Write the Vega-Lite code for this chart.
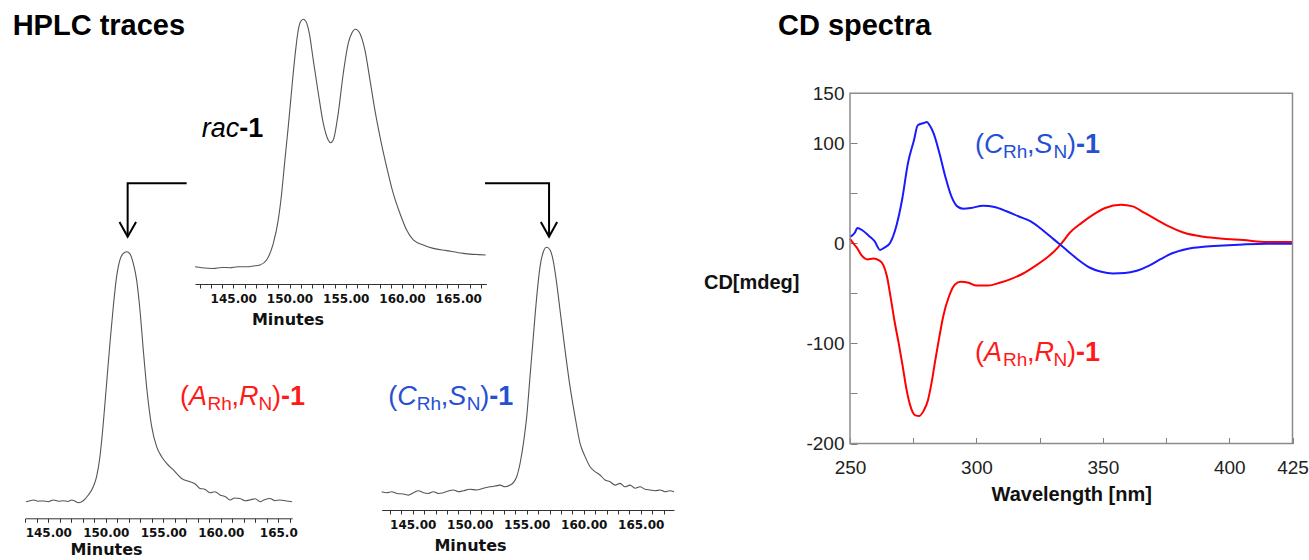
{
"$schema": "https://vega.github.io/schema/vega-lite/v6.json",
"width": 1309, "height": 560,
"autosize": {"type": "none"},
"padding": 0,
"background": "white",
"config": {"view": {"stroke": null}, "font": "Liberation Sans"},
"datasets": {
"top": [{"t":141.6,"v":0},{"t":142.2,"v":-0.004},{"t":143.22,"v":-0.007},{"t":144.0,"v":-0.003},{"t":144.7,"v":-0.004},{"t":145.4,"v":0.0},{"t":146.19,"v":0.0},{"t":146.8,"v":0.003},{"t":147.37,"v":0.007},{"t":147.96,"v":0.027},{"t":148.56,"v":0.094},{"t":149.0,"v":0.189},{"t":149.3,"v":0.296},{"t":149.59,"v":0.431},{"t":149.89,"v":0.566},{"t":150.19,"v":0.714},{"t":150.48,"v":0.849},{"t":150.78,"v":0.957},{"t":150.99,"v":0.991},{"t":151.22,"v":1.0},{"t":151.46,"v":0.991},{"t":151.76,"v":0.943},{"t":152.11,"v":0.836},{"t":152.56,"v":0.701},{"t":153.0,"v":0.58},{"t":153.44,"v":0.512},{"t":153.65,"v":0.501},{"t":153.89,"v":0.512},{"t":154.33,"v":0.62},{"t":154.78,"v":0.782},{"t":155.22,"v":0.903},{"t":155.52,"v":0.943},{"t":155.87,"v":0.96},{"t":156.26,"v":0.943},{"t":156.7,"v":0.876},{"t":157.15,"v":0.755},{"t":157.59,"v":0.633},{"t":158.04,"v":0.526},{"t":158.63,"v":0.404},{"t":159.22,"v":0.296},{"t":159.81,"v":0.216},{"t":160.41,"v":0.148},{"t":161.0,"v":0.108},{"t":161.89,"v":0.088},{"t":162.78,"v":0.074},{"t":163.96,"v":0.065},{"t":165.44,"v":0.054},{"t":167.43,"v":0.047}],
"left": [{"t":143.06,"v":0},{"t":143.4,"v":0.004},{"t":143.7,"v":0.007},{"t":144.1,"v":0.002},{"t":144.57,"v":0.003},{"t":145.0,"v":0.0},{"t":145.43,"v":0.007},{"t":145.9,"v":0.002},{"t":146.3,"v":0.004},{"t":146.7,"v":0.001},{"t":147.03,"v":0.007},{"t":147.3,"v":0.003},{"t":147.61,"v":-0.004},{"t":148.04,"v":0.004},{"t":148.48,"v":0.027},{"t":148.91,"v":0.06},{"t":149.2,"v":0.1},{"t":149.49,"v":0.18},{"t":149.78,"v":0.313},{"t":150.07,"v":0.473},{"t":150.36,"v":0.633},{"t":150.65,"v":0.78},{"t":150.94,"v":0.9},{"t":151.23,"v":0.967},{"t":151.52,"v":0.993},{"t":151.81,"v":1.0},{"t":152.1,"v":0.991},{"t":152.39,"v":0.953},{"t":152.68,"v":0.887},{"t":152.97,"v":0.767},{"t":153.26,"v":0.607},{"t":153.55,"v":0.46},{"t":153.99,"v":0.3},{"t":154.42,"v":0.22},{"t":154.86,"v":0.18},{"t":155.29,"v":0.153},{"t":155.87,"v":0.127},{"t":156.59,"v":0.093},{"t":157.32,"v":0.08},{"t":157.8,"v":0.07},{"t":158.19,"v":0.053},{"t":158.6,"v":0.05},{"t":159.06,"v":0.036},{"t":159.5,"v":0.04},{"t":159.93,"v":0.027},{"t":160.4,"v":0.02},{"t":160.8,"v":0.007},{"t":161.2,"v":0.015},{"t":161.67,"v":0.013},{"t":162.1,"v":0.004},{"t":162.54,"v":0.007},{"t":163.0,"v":0.012},{"t":163.41,"v":0.0},{"t":163.8,"v":0.008},{"t":164.28,"v":0.013},{"t":164.7,"v":0.004},{"t":165.14,"v":0.007},{"t":165.7,"v":0.003},{"t":166.2,"v":0.0}],
"right": [{"t":142.28,"v":0.004},{"t":142.72,"v":0},{"t":143.16,"v":0.004},{"t":143.6,"v":-0.003},{"t":144.18,"v":-0.005},{"t":144.62,"v":-0.01},{"t":145.06,"v":0},{"t":145.5,"v":0.008},{"t":145.94,"v":0},{"t":146.37,"v":-0.003},{"t":146.81,"v":0.004},{"t":147.25,"v":-0.003},{"t":147.69,"v":0},{"t":148.13,"v":0.007},{"t":148.57,"v":0.011},{"t":149.01,"v":0.004},{"t":149.44,"v":0.008},{"t":150.03,"v":0.014},{"t":150.61,"v":0.011},{"t":151.2,"v":0.018},{"t":151.78,"v":0.024},{"t":152.22,"v":0.027},{"t":152.66,"v":0.031},{"t":153.1,"v":0.024},{"t":153.54,"v":0.031},{"t":153.83,"v":0.041},{"t":154.12,"v":0.065},{"t":154.42,"v":0.12},{"t":154.71,"v":0.201},{"t":155.0,"v":0.31},{"t":155.29,"v":0.473},{"t":155.58,"v":0.636},{"t":155.88,"v":0.799},{"t":156.17,"v":0.921},{"t":156.46,"v":0.982},{"t":156.75,"v":1.0},{"t":157.05,"v":0.989},{"t":157.34,"v":0.942},{"t":157.63,"v":0.853},{"t":157.92,"v":0.745},{"t":158.36,"v":0.582},{"t":158.8,"v":0.432},{"t":159.24,"v":0.31},{"t":159.68,"v":0.201},{"t":160.12,"v":0.147},{"t":160.56,"v":0.106},{"t":160.99,"v":0.086},{"t":161.43,"v":0.072},{"t":161.87,"v":0.052},{"t":162.31,"v":0.045},{"t":162.75,"v":0.031},{"t":163.19,"v":0.038},{"t":163.63,"v":0.024},{"t":164.06,"v":0.031},{"t":164.5,"v":0.018},{"t":164.94,"v":0.024},{"t":165.38,"v":0.014},{"t":165.82,"v":0.011},{"t":166.26,"v":0.008},{"t":166.7,"v":0.011},{"t":167.13,"v":0.004},{"t":167.57,"v":0.008},{"t":167.92,"v":0.004}],
"cd": [{"nm":250,"mdeg":4.6,"iso":"A"},{"nm":251.3,"mdeg":0,"iso":"A"},{"nm":252.7,"mdeg":-4.3,"iso":"A"},{"nm":254.6,"mdeg":-12.0,"iso":"A"},{"nm":256.9,"mdeg":-16.0,"iso":"A"},{"nm":259.2,"mdeg":-15.2,"iso":"A"},{"nm":261.5,"mdeg":-17.0,"iso":"A"},{"nm":263.1,"mdeg":-21.2,"iso":"A"},{"nm":264.6,"mdeg":-32.8,"iso":"A"},{"nm":266.2,"mdeg":-56.0,"iso":"A"},{"nm":267.7,"mdeg":-79.1,"iso":"A"},{"nm":269.2,"mdeg":-99.0,"iso":"A"},{"nm":270.8,"mdeg":-122.2,"iso":"A"},{"nm":272.3,"mdeg":-145.4,"iso":"A"},{"nm":273.8,"mdeg":-161.9,"iso":"A"},{"nm":275.8,"mdeg":-171.9,"iso":"A"},{"nm":277.4,"mdeg":-172.5,"iso":"A"},{"nm":279.2,"mdeg":-166.9,"iso":"A"},{"nm":280.8,"mdeg":-157.0,"iso":"A"},{"nm":282.3,"mdeg":-138.7,"iso":"A"},{"nm":283.8,"mdeg":-115.6,"iso":"A"},{"nm":285.4,"mdeg":-92.4,"iso":"A"},{"nm":286.9,"mdeg":-72.5,"iso":"A"},{"nm":289.2,"mdeg":-52.6,"iso":"A"},{"nm":291.5,"mdeg":-41.1,"iso":"A"},{"nm":293.8,"mdeg":-38.4,"iso":"A"},{"nm":296.9,"mdeg":-39.4,"iso":"A"},{"nm":300,"mdeg":-42.1,"iso":"A"},{"nm":304.6,"mdeg":-42.1,"iso":"A"},{"nm":309.2,"mdeg":-39.4,"iso":"A"},{"nm":313.8,"mdeg":-35.4,"iso":"A"},{"nm":318.5,"mdeg":-30.1,"iso":"A"},{"nm":323.1,"mdeg":-22.8,"iso":"A"},{"nm":327.7,"mdeg":-14.6,"iso":"A"},{"nm":330.8,"mdeg":-7.9,"iso":"A"},{"nm":333.8,"mdeg":0.5,"iso":"A"},{"nm":336.9,"mdeg":10.6,"iso":"A"},{"nm":341.6,"mdeg":20.5,"iso":"A"},{"nm":346.2,"mdeg":28.8,"iso":"A"},{"nm":350.9,"mdeg":35.4,"iso":"A"},{"nm":357.2,"mdeg":38.7,"iso":"A"},{"nm":361.8,"mdeg":37.0,"iso":"A"},{"nm":366.5,"mdeg":30.4,"iso":"A"},{"nm":371.2,"mdeg":23.8,"iso":"A"},{"nm":375.9,"mdeg":17.2,"iso":"A"},{"nm":382.1,"mdeg":10.6,"iso":"A"},{"nm":389.9,"mdeg":6.6,"iso":"A"},{"nm":397.7,"mdeg":4.6,"iso":"A"},{"nm":405.5,"mdeg":3.3,"iso":"A"},{"nm":414.9,"mdeg":1.3,"iso":"A"},{"nm":425,"mdeg":1.3,"iso":"A"},
{"nm":250,"mdeg":6.6,"iso":"C"},{"nm":251.9,"mdeg":10.6,"iso":"C"},{"nm":252.9,"mdeg":15.5,"iso":"C"},{"nm":255.0,"mdeg":12.9,"iso":"C"},{"nm":257.3,"mdeg":7.9,"iso":"C"},{"nm":259.7,"mdeg":2.3,"iso":"C"},{"nm":261.9,"mdeg":-6.5,"iso":"C"},{"nm":263.6,"mdeg":-4.3,"iso":"C"},{"nm":265.9,"mdeg":0.7,"iso":"C"},{"nm":268.3,"mdeg":17.2,"iso":"C"},{"nm":270.6,"mdeg":43.6,"iso":"C"},{"nm":272.9,"mdeg":80.0,"iso":"C"},{"nm":275.3,"mdeg":103.1,"iso":"C"},{"nm":276.8,"mdeg":118.0,"iso":"C"},{"nm":279.2,"mdeg":120.3,"iso":"C"},{"nm":280.4,"mdeg":121.3,"iso":"C"},{"nm":281.5,"mdeg":118.0,"iso":"C"},{"nm":283.1,"mdeg":109.7,"iso":"C"},{"nm":285.4,"mdeg":89.9,"iso":"C"},{"nm":287.7,"mdeg":66.7,"iso":"C"},{"nm":290.1,"mdeg":46.9,"iso":"C"},{"nm":292.4,"mdeg":37.0,"iso":"C"},{"nm":294.8,"mdeg":34.7,"iso":"C"},{"nm":297.9,"mdeg":35.4,"iso":"C"},{"nm":302.6,"mdeg":37.7,"iso":"C"},{"nm":307.2,"mdeg":36.4,"iso":"C"},{"nm":311.9,"mdeg":32.1,"iso":"C"},{"nm":316.6,"mdeg":27.1,"iso":"C"},{"nm":321.3,"mdeg":22.2,"iso":"C"},{"nm":325.9,"mdeg":13.9,"iso":"C"},{"nm":330.6,"mdeg":4.0,"iso":"C"},{"nm":335.3,"mdeg":-5.9,"iso":"C"},{"nm":340.0,"mdeg":-15.8,"iso":"C"},{"nm":344.7,"mdeg":-24.1,"iso":"C"},{"nm":349.4,"mdeg":-28.4,"iso":"C"},{"nm":354.0,"mdeg":-30.0,"iso":"C"},{"nm":358.7,"mdeg":-29.7,"iso":"C"},{"nm":363.4,"mdeg":-27.4,"iso":"C"},{"nm":368.1,"mdeg":-22.5,"iso":"C"},{"nm":372.8,"mdeg":-15.8,"iso":"C"},{"nm":377.4,"mdeg":-9.9,"iso":"C"},{"nm":383.7,"mdeg":-5.3,"iso":"C"},{"nm":389.9,"mdeg":-3.3,"iso":"C"},{"nm":397.7,"mdeg":-2.0,"iso":"C"},{"nm":405.5,"mdeg":-1.0,"iso":"C"},{"nm":414.9,"mdeg":-0.3,"iso":"C"},{"nm":425,"mdeg":-0.3,"iso":"C"}],
"arrowL": [{"part":"shaft","o":1,"t":157.03,"v":1.274},{"part":"shaft","o":2,"t":151.9,"v":1.274},{"part":"shaft","o":3,"t":151.9,"v":1.067},{"part":"head","o":1,"t":151.19,"v":1.119},{"part":"head","o":2,"t":151.9,"v":1.06},{"part":"head","o":3,"t":152.63,"v":1.119}],
"arrowR": [{"part":"shaft","o":1,"t":151.34,"v":1.261},{"part":"shaft","o":2,"t":156.96,"v":1.261},{"part":"shaft","o":3,"t":156.96,"v":1.05},{"part":"head","o":1,"t":156.24,"v":1.103},{"part":"head","o":2,"t":156.96,"v":1.043},{"part":"head","o":3,"t":157.67,"v":1.103}],
"labL": [{"t":156.45,"v":0.387}],
"labR": [{"t":142.86,"v":0.357}],
"labTop": [{"t":142.2,"v":0.525}],
"labCD": [{"nm":299.4,"mdeg":90.3,"m1":"C","m2":"S","iso":"C"},{"nm":299.4,"mdeg":-117.7,"m1":"A","m2":"R","iso":"A"}],
"headL": [{"t":141.9,"v":1.867,"label":"HPLC traces"}],
"headCD": [{"nm":221.5,"mdeg":208.3,"label":"CD spectra"}],
"frame": [{"nm0":250,"nm1":425,"m0":-200,"m1":150}]
},
"layer": [
{
"layer": [
{"data":{"name":"top"},"mark":{"type":"line","color":"#555555","strokeWidth":1.1,"interpolate":"monotone"},
"encoding":{
"x":{"field":"t","type":"quantitative","scale":{"domain":[141.6,167.5],"range":[195,486.4],"nice":false,"zero":false},
"axis":{"orient":"bottom","offset":-276,"values":[142,143,144,145,146,147,148,149,150,151,152,153,154,155,156,157,158,159,160,161,162,163,164,165,166,167],"labelExpr":"datum.value % 5 === 0 ? format(datum.value, '.2f') : ''","labelFont":"DejaVu Sans","labelFontWeight":"bold","labelFontSize":12,"labelColor":"#111111","labelPadding":5,"labelFlush":false,"labelOverlap":false,"tickSize":4,"tickColor":"#333333","domainColor":"#333333","grid":false,"title":"Minutes","titleFont":"DejaVu Sans","titleFontSize":16,"titleFontWeight":"bold","titleColor":"#111111","titlePadding":7,"titleX":287.5}},
"y":{"field":"v","type":"quantitative","scale":{"domain":[0,1],"range":[266.7,19.3],"nice":false,"zero":false},"axis":null}}},
{"data":{"name":"labTop"},"mark":{"type":"text","align":"left","baseline":"alphabetic","fontSize":27,"fontStyle":"italic","color":"#000000"},
"encoding":{"x":{"field":"t","type":"quantitative"},"y":{"field":"v","type":"quantitative","axis":null},"text":{"value":"rac"}}},
{"data":{"name":"labTop"},"mark":{"type":"text","align":"left","baseline":"alphabetic","fontSize":27,"fontWeight":"bold","color":"#000000","dx":37.5},
"encoding":{"x":{"field":"t","type":"quantitative"},"y":{"field":"v","type":"quantitative","axis":null},"text":{"value":"-1"}}}
]
},
{
"layer": [
{"data":{"name":"left"},"mark":{"type":"line","color":"#555555","strokeWidth":1.1,"interpolate":"monotone"},
"encoding":{
"x":{"field":"t","type":"quantitative","scale":{"domain":[143,166.2],"range":[25.3,292.1],"nice":false,"zero":false},
"axis":{"orient":"bottom","offset":-41.7,"values":[143,144,145,146,147,148,149,150,151,152,153,154,155,156,157,158,159,160,161,162,163,164,165,166],"labelExpr":"datum.value % 5 === 0 ? (datum.value === 165 ? '165.0' : format(datum.value, '.2f')) : ''","labelFont":"DejaVu Sans","labelFontWeight":"bold","labelFontSize":12,"labelColor":"#111111","labelPadding":5,"labelFlush":false,"labelOverlap":false,"tickSize":4,"tickColor":"#333333","domainColor":"#333333","grid":false,"title":"Minutes","titleFont":"DejaVu Sans","titleFontSize":16,"titleFontWeight":"bold","titleColor":"#111111","titlePadding":3,"titleX":106}},
"y":{"field":"v","type":"quantitative","scale":{"domain":[0,1],"range":[501.7,251.7],"nice":false,"zero":false},"axis":null}}},
{"data":{"name":"arrowL"},"mark":{"type":"line","color":"#000000","strokeWidth":2,"strokeJoin":"miter","strokeCap":"butt"},
"encoding":{"x":{"field":"t","type":"quantitative"},"y":{"field":"v","type":"quantitative","axis":null},"detail":{"field":"part"},"order":{"field":"o","type":"quantitative"}}},
{"data":{"name":"headL"},"mark":{"type":"text","align":"left","baseline":"alphabetic","fontSize":29,"fontWeight":"bold","color":"#000000"},
"encoding":{"x":{"field":"t","type":"quantitative"},"y":{"field":"v","type":"quantitative","axis":null},"text":{"field":"label"}}},
{"data":{"name":"labL"},"mark":{"type":"text","align":"left","baseline":"alphabetic","fontSize":27,"color":"#ff1a1a","dx":0},
"encoding":{"x":{"field":"t","type":"quantitative"},"y":{"field":"v","type":"quantitative","axis":null},"text":{"value":"("}}},
{"data":{"name":"labL"},"mark":{"type":"text","align":"left","baseline":"alphabetic","fontSize":27,"fontStyle":"italic","color":"#ff1a1a","dx":9},
"encoding":{"x":{"field":"t","type":"quantitative"},"y":{"field":"v","type":"quantitative","axis":null},"text":{"value":"A"}}},
{"data":{"name":"labL"},"mark":{"type":"text","align":"left","baseline":"alphabetic","fontSize":19,"color":"#ff1a1a","dx":27.5,"dy":5},
"encoding":{"x":{"field":"t","type":"quantitative"},"y":{"field":"v","type":"quantitative","axis":null},"text":{"value":"Rh"}}},
{"data":{"name":"labL"},"mark":{"type":"text","align":"left","baseline":"alphabetic","fontSize":27,"color":"#ff1a1a","dx":51.5},
"encoding":{"x":{"field":"t","type":"quantitative"},"y":{"field":"v","type":"quantitative","axis":null},"text":{"value":","}}},
{"data":{"name":"labL"},"mark":{"type":"text","align":"left","baseline":"alphabetic","fontSize":27,"fontStyle":"italic","color":"#ff1a1a","dx":59},
"encoding":{"x":{"field":"t","type":"quantitative"},"y":{"field":"v","type":"quantitative","axis":null},"text":{"value":"R"}}},
{"data":{"name":"labL"},"mark":{"type":"text","align":"left","baseline":"alphabetic","fontSize":19,"color":"#ff1a1a","dx":78.5,"dy":5},
"encoding":{"x":{"field":"t","type":"quantitative"},"y":{"field":"v","type":"quantitative","axis":null},"text":{"value":"N"}}},
{"data":{"name":"labL"},"mark":{"type":"text","align":"left","baseline":"alphabetic","fontSize":27,"color":"#ff1a1a","dx":92},
"encoding":{"x":{"field":"t","type":"quantitative"},"y":{"field":"v","type":"quantitative","axis":null},"text":{"value":")"}}},
{"data":{"name":"labL"},"mark":{"type":"text","align":"left","baseline":"alphabetic","fontSize":27,"fontWeight":"bold","color":"#ff1a1a","dx":101},
"encoding":{"x":{"field":"t","type":"quantitative"},"y":{"field":"v","type":"quantitative","axis":null},"text":{"value":"-1"}}}
]
},
{
"layer": [
{"data":{"name":"right"},"mark":{"type":"line","color":"#555555","strokeWidth":1.1,"interpolate":"monotone"},
"encoding":{
"x":{"field":"t","type":"quantitative","scale":{"domain":[142.28,167.92],"range":[381.7,674],"nice":false,"zero":false},
"axis":{"orient":"bottom","offset":-50,"values":[143,144,145,146,147,148,149,150,151,152,153,154,155,156,157,158,159,160,161,162,163,164,165,166,167],"labelExpr":"datum.value % 5 === 0 ? format(datum.value, '.2f') : ''","labelFont":"DejaVu Sans","labelFontWeight":"bold","labelFontSize":12,"labelColor":"#111111","labelPadding":5,"labelFlush":false,"labelOverlap":false,"tickSize":4,"tickColor":"#333333","domainColor":"#333333","grid":false,"title":"Minutes","titleFont":"DejaVu Sans","titleFontSize":16,"titleFontWeight":"bold","titleColor":"#111111","titlePadding":7,"titleX":470}},
"y":{"field":"v","type":"quantitative","scale":{"domain":[0,1],"range":[492.7,247.3],"nice":false,"zero":false},"axis":null}}},
{"data":{"name":"arrowR"},"mark":{"type":"line","color":"#000000","strokeWidth":2,"strokeJoin":"miter","strokeCap":"butt"},
"encoding":{"x":{"field":"t","type":"quantitative"},"y":{"field":"v","type":"quantitative","axis":null},"detail":{"field":"part"},"order":{"field":"o","type":"quantitative"}}},
{"data":{"name":"labR"},"mark":{"type":"text","align":"left","baseline":"alphabetic","fontSize":27,"color":"#2650d4","dx":0},
"encoding":{"x":{"field":"t","type":"quantitative"},"y":{"field":"v","type":"quantitative","axis":null},"text":{"value":"("}}},
{"data":{"name":"labR"},"mark":{"type":"text","align":"left","baseline":"alphabetic","fontSize":27,"fontStyle":"italic","color":"#2650d4","dx":9},
"encoding":{"x":{"field":"t","type":"quantitative"},"y":{"field":"v","type":"quantitative","axis":null},"text":{"value":"C"}}},
{"data":{"name":"labR"},"mark":{"type":"text","align":"left","baseline":"alphabetic","fontSize":19,"color":"#2650d4","dx":28.5,"dy":5},
"encoding":{"x":{"field":"t","type":"quantitative"},"y":{"field":"v","type":"quantitative","axis":null},"text":{"value":"Rh"}}},
{"data":{"name":"labR"},"mark":{"type":"text","align":"left","baseline":"alphabetic","fontSize":27,"color":"#2650d4","dx":52.5},
"encoding":{"x":{"field":"t","type":"quantitative"},"y":{"field":"v","type":"quantitative","axis":null},"text":{"value":","}}},
{"data":{"name":"labR"},"mark":{"type":"text","align":"left","baseline":"alphabetic","fontSize":27,"fontStyle":"italic","color":"#2650d4","dx":60},
"encoding":{"x":{"field":"t","type":"quantitative"},"y":{"field":"v","type":"quantitative","axis":null},"text":{"value":"S"}}},
{"data":{"name":"labR"},"mark":{"type":"text","align":"left","baseline":"alphabetic","fontSize":19,"color":"#2650d4","dx":78.5,"dy":5},
"encoding":{"x":{"field":"t","type":"quantitative"},"y":{"field":"v","type":"quantitative","axis":null},"text":{"value":"N"}}},
{"data":{"name":"labR"},"mark":{"type":"text","align":"left","baseline":"alphabetic","fontSize":27,"color":"#2650d4","dx":92},
"encoding":{"x":{"field":"t","type":"quantitative"},"y":{"field":"v","type":"quantitative","axis":null},"text":{"value":")"}}},
{"data":{"name":"labR"},"mark":{"type":"text","align":"left","baseline":"alphabetic","fontSize":27,"fontWeight":"bold","color":"#2650d4","dx":101},
"encoding":{"x":{"field":"t","type":"quantitative"},"y":{"field":"v","type":"quantitative","axis":null},"text":{"value":"-1"}}}
]
},
{
"layer": [
{"data":{"name":"cd"},"mark":{"type":"line","strokeWidth":2,"interpolate":"monotone"},
"encoding":{
"x":{"field":"nm","type":"quantitative","scale":{"domain":[250,425],"range":[850,1292.5],"nice":false,"zero":false},
"axis":{"orient":"bottom","offset":-116.5,"values":[250,275,300,325,350,375,400,425],"labelExpr":"datum.value === 275 || datum.value === 325 || datum.value === 375 ? '' : '' + datum.value","labelFont":"Liberation Sans","labelFontSize":19,"labelColor":"#222222","labelPadding":21,"labelFlush":false,"labelOverlap":false,"tickSize":-6,"tickColor":"#808080","domain":false,"grid":false,"title":"Wavelength [nm]","titleFont":"Liberation Sans","titleFontSize":20,"titleFontWeight":"bold","titleColor":"#111111","titlePadding":7}},
"y":{"field":"mdeg","type":"quantitative","scale":{"domain":[-200,150],"range":[443.5,93.3],"nice":false,"zero":false},
"axis":{"orient":"left","offset":-850,"values":[150,100,50,0,-50,-100,-150,-200],"labelExpr":"datum.value === 50 || datum.value === -50 || datum.value === -150 ? '' : '' + datum.value","labelFont":"Liberation Sans","labelFontSize":19,"labelColor":"#222222","labelPadding":13,"labelOverlap":false,"labelFlush":false,"tickSize":-7,"tickColor":"#808080","domain":false,"grid":false,"title":"CD[mdeg]","titleFont":"Liberation Sans","titleFontSize":20,"titleFontWeight":"bold","titleColor":"#111111","titleAngle":0,"titleAlign":"right","titleBaseline":"middle","titleX":-51,"titleY":282}},
"color":{"field":"iso","type":"nominal","scale":{"domain":["A","C"],"range":["#ff0000","#1a1aff"]},"legend":null}}},
{"data":{"name":"frame"},"mark":{"type":"rect","fillOpacity":0,"stroke":"#8c8c8c","strokeWidth":1.5},
"encoding":{"x":{"field":"nm0","type":"quantitative"},"x2":{"field":"nm1"},"y":{"field":"m0","type":"quantitative"},"y2":{"field":"m1"}}},
{"data":{"name":"headCD"},"mark":{"type":"text","align":"left","baseline":"alphabetic","fontSize":29,"fontWeight":"bold","color":"#000000"},
"encoding":{"x":{"field":"nm","type":"quantitative"},"y":{"field":"mdeg","type":"quantitative"},"text":{"field":"label"}}},
{"data":{"name":"labCD"},"mark":{"type":"text","align":"left","baseline":"alphabetic","fontSize":27,"dx":0},
"encoding":{"x":{"field":"nm","type":"quantitative"},"y":{"field":"mdeg","type":"quantitative"},"text":{"value":"("},"color":{"field":"iso","type":"nominal","scale":{"domain":["A","C"],"range":["#ff1a1a","#2650d4"]},"legend":null}}},
{"data":{"name":"labCD"},"mark":{"type":"text","align":"left","baseline":"alphabetic","fontSize":27,"fontStyle":"italic","dx":9},
"encoding":{"x":{"field":"nm","type":"quantitative"},"y":{"field":"mdeg","type":"quantitative"},"text":{"field":"m1"},"color":{"field":"iso","type":"nominal","scale":{"domain":["A","C"],"range":["#ff1a1a","#2650d4"]},"legend":null}}},
{"data":{"name":"labCD"},"mark":{"type":"text","align":"left","baseline":"alphabetic","fontSize":19,"dx":28,"dy":5},
"encoding":{"x":{"field":"nm","type":"quantitative"},"y":{"field":"mdeg","type":"quantitative"},"text":{"value":"Rh"},"color":{"field":"iso","type":"nominal","scale":{"domain":["A","C"],"range":["#ff1a1a","#2650d4"]},"legend":null}}},
{"data":{"name":"labCD"},"mark":{"type":"text","align":"left","baseline":"alphabetic","fontSize":27,"dx":52},
"encoding":{"x":{"field":"nm","type":"quantitative"},"y":{"field":"mdeg","type":"quantitative"},"text":{"value":","},"color":{"field":"iso","type":"nominal","scale":{"domain":["A","C"],"range":["#ff1a1a","#2650d4"]},"legend":null}}},
{"data":{"name":"labCD"},"mark":{"type":"text","align":"left","baseline":"alphabetic","fontSize":27,"fontStyle":"italic","dx":59.5},
"encoding":{"x":{"field":"nm","type":"quantitative"},"y":{"field":"mdeg","type":"quantitative"},"text":{"field":"m2"},"color":{"field":"iso","type":"nominal","scale":{"domain":["A","C"],"range":["#ff1a1a","#2650d4"]},"legend":null}}},
{"data":{"name":"labCD"},"mark":{"type":"text","align":"left","baseline":"alphabetic","fontSize":19,"dx":78.5,"dy":5},
"encoding":{"x":{"field":"nm","type":"quantitative"},"y":{"field":"mdeg","type":"quantitative"},"text":{"value":"N"},"color":{"field":"iso","type":"nominal","scale":{"domain":["A","C"],"range":["#ff1a1a","#2650d4"]},"legend":null}}},
{"data":{"name":"labCD"},"mark":{"type":"text","align":"left","baseline":"alphabetic","fontSize":27,"dx":92},
"encoding":{"x":{"field":"nm","type":"quantitative"},"y":{"field":"mdeg","type":"quantitative"},"text":{"value":")"},"color":{"field":"iso","type":"nominal","scale":{"domain":["A","C"],"range":["#ff1a1a","#2650d4"]},"legend":null}}},
{"data":{"name":"labCD"},"mark":{"type":"text","align":"left","baseline":"alphabetic","fontSize":27,"fontWeight":"bold","dx":101},
"encoding":{"x":{"field":"nm","type":"quantitative"},"y":{"field":"mdeg","type":"quantitative"},"text":{"value":"-1"},"color":{"field":"iso","type":"nominal","scale":{"domain":["A","C"],"range":["#ff1a1a","#2650d4"]},"legend":null}}}
],
"resolve": {"scale": {"color": "independent"}}
}
],
"resolve": {"scale": {"x": "independent", "y": "independent"}, "axis": {"x": "independent", "y": "independent"}}
}
